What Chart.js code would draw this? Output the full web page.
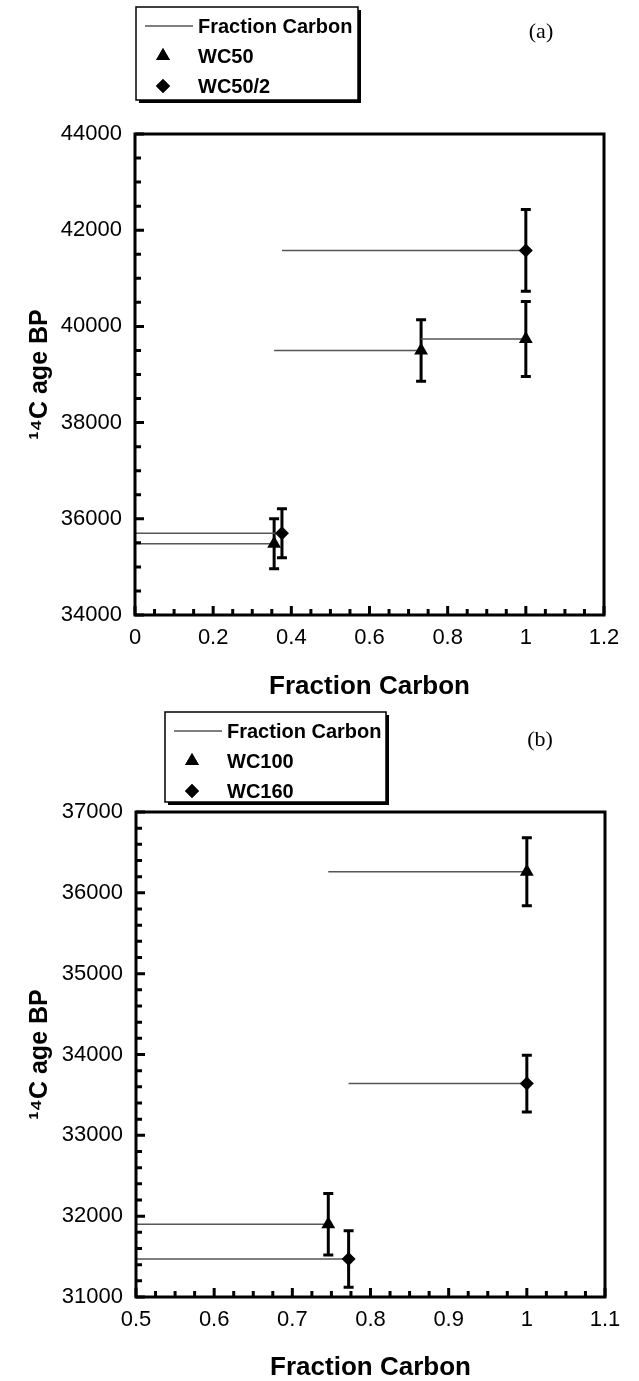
<!DOCTYPE html>
<html>
<head>
<meta charset="utf-8">
<script src="https://cdn.jsdelivr.net/npm/chart.js@4.4.1/dist/chart.umd.min.js"></script>
<style>
  html, body { margin: 0; padding: 0; background: #fff; }
  body { width: 639px; height: 1381px; position: relative; overflow: hidden; }
  canvas { position: absolute; left: 0; }
  #chartA { top: 0; }
  #chartB { top: 700px; }
</style>
</head>
<body>
<canvas id="chartA" width="639" height="700"></canvas>
<canvas id="chartB" width="639" height="681"></canvas>
<script>
// panel (a)
var fracWC50 = [0.356, 0.732, 1.0];
var ageWC50 = [35480, 39500, 39740];
var errWC50 = [520, 640, 780];
var fracWC50_2 = [0.376, 1.0];
var ageWC50_2 = [35700, 41580];
var errWC50_2 = [510, 850];
var xTicksA = [0, 0.2, 0.4, 0.6, 0.8, 1, 1.2];
var yTicksA = [34000, 36000, 38000, 40000, 42000, 44000];

// panel (b)
var fracWC100 = [0.746, 1.0];
var ageWC100 = [31900, 36260];
var errWC100 = [380, 420];
var fracWC160 = [0.772, 1.0];
var ageWC160 = [31470, 33640];
var errWC160 = [350, 350];
var xTicksB = [0.5, 0.6, 0.7, 0.8, 0.9, 1, 1.1];
var yTicksB = [31000, 32000, 33000, 34000, 35000, 36000, 37000];

var LINE_GREY = '#555555';

// horizontal "fraction carbon" steps: from previous fraction to this one
function steps(frac, age) {
    var pts = [];
    var prev = 0;
    for (var i = 0; i < frac.length; i++) {
        pts.push({x: prev, y: age[i]});
        pts.push({x: frac[i], y: age[i]});
        pts.push({x: frac[i], y: null});
        prev = frac[i];
    }
    return pts;
}

function points(frac, age) {
    return frac.map(function (f, i) { return {x: f, y: age[i]}; });
}

var errorBars = {
    id: 'errorBars',
    beforeDatasetsDraw: function (chart) {
        var ctx = chart.ctx, xs = chart.scales.x, ys = chart.scales.y;
        ctx.save();
        ctx.strokeStyle = '#000';
        ctx.lineWidth = 3;
        chart.data.datasets.forEach(function (ds) {
            if (!ds.err) return;
            ds.data.forEach(function (p, i) {
                var x = xs.getPixelForValue(p.x);
                var y1 = ys.getPixelForValue(p.y + ds.err[i]);
                var y2 = ys.getPixelForValue(p.y - ds.err[i]);
                ctx.beginPath();
                ctx.moveTo(x, y1); ctx.lineTo(x, y2);
                ctx.moveTo(x - 5, y1); ctx.lineTo(x + 5, y1);
                ctx.moveTo(x - 5, y2); ctx.lineTo(x + 5, y2);
                ctx.stroke();
            });
        });
        ctx.restore();
    }
};

var frameTicks = {
    id: 'frameTicks',
    afterDraw: function (chart, args, opts) {
        var ctx = chart.ctx, a = chart.chartArea;
        var xs = chart.scales.x, ys = chart.scales.y;
        ctx.save();
        ctx.strokeStyle = '#000';
        ctx.lineWidth = 3;
        ctx.beginPath();
        var v, px, major;
        for (v = xs.min; v <= xs.max + 1e-9; v += opts.xMinor) {
            px = xs.getPixelForValue(v);
            major = Math.abs(Math.round((v - xs.min) / opts.xMajor) * opts.xMajor - (v - xs.min)) < 1e-6;
            ctx.moveTo(px, a.bottom);
            ctx.lineTo(px, a.bottom - (major ? 9 : 6));
        }
        for (v = ys.min; v <= ys.max + 1e-9; v += opts.yMinor) {
            px = ys.getPixelForValue(v);
            major = (v - ys.min) % opts.yMajor === 0;
            ctx.moveTo(a.left, px);
            ctx.lineTo(a.left + (major ? 9 : 6), px);
        }
        ctx.stroke();
        ctx.lineWidth = 3;
        ctx.strokeRect(a.left, a.top, a.right - a.left, a.bottom - a.top);

        // panel label
        ctx.fillStyle = '#000';
        ctx.font = '22px "Liberation Serif", "Times New Roman", serif';
        ctx.textAlign = 'center';
        ctx.textBaseline = 'middle';
        ctx.fillText(opts.panel, opts.panelX, opts.panelY);
        ctx.restore();
    }
};

var boxLegend = {
    id: 'boxLegend',
    afterDraw: function (chart, args, opts) {
        var ctx = chart.ctx;
        var L = opts.left, T = opts.top, W = opts.width, H = opts.height;
        ctx.save();
        ctx.fillStyle = '#000';
        ctx.fillRect(L + 3, T + 3, W, H);
        ctx.fillStyle = '#fff';
        ctx.fillRect(L, T, W, H);
        ctx.strokeStyle = '#000';
        ctx.lineWidth = 1.5;
        ctx.strokeRect(L, T, W, H);

        ctx.font = 'bold 20px "Liberation Sans", Arial, sans-serif';
        ctx.textBaseline = 'middle';
        ctx.textAlign = 'left';
        ctx.fillStyle = '#000';
        var items = chart.data.datasets.filter(function (d) { return d.inLegend; });
        items.forEach(function (d, i) {
            var y = T + 19 + i * 30;
            if (d.showLine) {
                ctx.strokeStyle = LINE_GREY;
                ctx.lineWidth = 1.5;
                ctx.beginPath();
                ctx.moveTo(L + 9, y); ctx.lineTo(L + 57, y);
                ctx.stroke();
            } else {
                Chart.helpers.drawPoint(ctx, {pointStyle: d.pointStyle, radius: d.pointRadius, rotation: 0}, L + 27, y);
                ctx.fill();
            }
            ctx.fillText(d.label, L + 62, y + 1);
        });
        ctx.restore();
    }
};

function makeChart(id, cfg) {
    var tickFont = {family: '"Liberation Sans", Arial, sans-serif', size: 22};
    var xTitleFont = {family: '"Liberation Sans", Arial, sans-serif', size: 26, weight: 'bold', lineHeight: 1};
    var yTitleFont = {family: '"Liberation Sans", Arial, sans-serif', size: 25, weight: 'bold', lineHeight: 1};
    return new Chart(document.getElementById(id).getContext('2d'), {
        type: 'scatter',
        data: {
            datasets: [
                {label: 'Fraction Carbon', inLegend: true, type: 'line', showLine: true,
                    data: steps(cfg.frac1, cfg.age1), borderColor: LINE_GREY, borderWidth: 1.5,
                    pointRadius: 0, spanGaps: false, order: 3},
                {label: 'Fraction Carbon 2', type: 'line', showLine: true,
                    data: steps(cfg.frac2, cfg.age2), borderColor: LINE_GREY, borderWidth: 1.5,
                    pointRadius: 0, spanGaps: false, order: 3},
                {label: cfg.name1, inLegend: true, data: points(cfg.frac1, cfg.age1), err: cfg.err1,
                    pointStyle: 'triangle', pointRadius: 8, backgroundColor: '#000', borderColor: '#000',
                    borderWidth: 0, order: 1},
                {label: cfg.name2, inLegend: true, data: points(cfg.frac2, cfg.age2), err: cfg.err2,
                    pointStyle: 'rectRot', pointRadius: 7, backgroundColor: '#000', borderColor: '#000',
                    borderWidth: 0, order: 1}
            ]
        },
        options: {
            responsive: false,
            animation: false,
            devicePixelRatio: 1,
            layout: {padding: {top: cfg.top, right: 639 - cfg.right, left: 0, bottom: 0}},
            plugins: {
                legend: {display: false},
                tooltip: {enabled: false},
                frameTicks: cfg.ticks,
                boxLegend: cfg.legend
            },
            scales: {
                x: {
                    type: 'linear', min: cfg.xTicks[0], max: cfg.xTicks[cfg.xTicks.length - 1],
                    afterBuildTicks: function (s) { s.ticks = cfg.xTicks.map(function (v) { return {value: v}; }); },
                    afterFit: function (s) { s.height = cfg.height - cfg.bottom; },
                    grid: {display: false, drawTicks: false},
                    border: {display: false},
                    ticks: {font: tickFont, color: '#000', padding: 10, maxRotation: 0, autoSkip: false,
                        callback: function (v) { return String(Number(v.toFixed(2))); }},
                    title: {display: true, text: 'Fraction Carbon', font: xTitleFont, color: '#000',
                        padding: {top: 0, bottom: 0}}
                },
                y: {
                    type: 'linear', min: cfg.yTicks[0], max: cfg.yTicks[cfg.yTicks.length - 1],
                    afterBuildTicks: function (s) { s.ticks = cfg.yTicks.map(function (v) { return {value: v}; }); },
                    afterFit: function (s) { s.width = cfg.left; },
                    grid: {display: false, drawTicks: false},
                    border: {display: false},
                    ticks: {font: tickFont, color: '#000', padding: 13, autoSkip: false,
                        callback: function (v) { return String(v); }},
                    title: {display: true, text: '¹⁴C age BP', font: yTitleFont, color: '#000',
                        padding: {top: 28, bottom: 0}}
                }
            }
        },
        plugins: [errorBars, frameTicks, boxLegend]
    });
}

makeChart('chartA', {
    frac1: fracWC50, age1: ageWC50, err1: errWC50, name1: 'WC50',
    frac2: fracWC50_2, age2: ageWC50_2, err2: errWC50_2, name2: 'WC50/2',
    xTicks: xTicksA, yTicks: yTicksA,
    left: 135, right: 604, top: 134, bottom: 615, height: 700,
    ticks: {xMajor: 0.2, xMinor: 0.05, yMajor: 2000, yMinor: 500, panel: '(a)', panelX: 541, panelY: 32},
    legend: {left: 136, top: 7, width: 222, height: 93}
});

makeChart('chartB', {
    frac1: fracWC100, age1: ageWC100, err1: errWC100, name1: 'WC100',
    frac2: fracWC160, age2: ageWC160, err2: errWC160, name2: 'WC160',
    xTicks: xTicksB, yTicks: yTicksB,
    left: 136, right: 605, top: 112, bottom: 597, height: 681,
    ticks: {xMajor: 0.1, xMinor: 0.025, yMajor: 1000, yMinor: 200, panel: '(b)', panelX: 540, panelY: 40},
    legend: {left: 165, top: 12, width: 221, height: 90}
});
</script>
</body>
</html>
